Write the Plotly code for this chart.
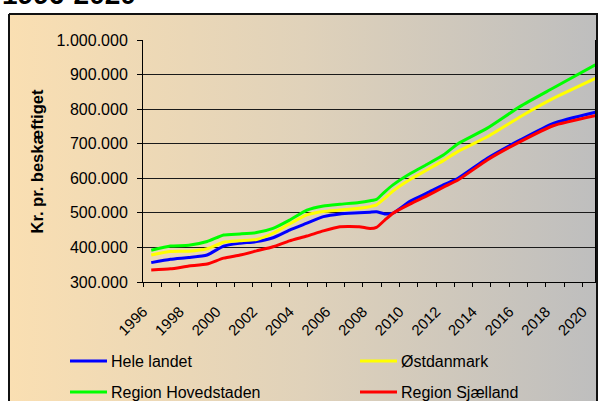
import plotly.graph_objects as go

# ---------------- data ----------------
years = [1996.45, 1997.5, 1998.5, 1999.5, 2000.4, 2001.3, 2002.2, 2003.1, 2004.0,
         2004.95, 2005.85, 2006.75, 2007.8, 2008.4, 2008.75, 2009.2, 2009.65,
         2010.6, 2011.5, 2012.4, 2013.2, 2014.8, 2016.6, 2018.4, 2020.7]

hele_landet = [356, 366, 371, 378, 404, 412, 417, 428, 450, 470, 489, 497, 500,
               502, 503, 497, 499, 534, 557, 581, 600, 658, 711, 759, 791]
oestdanmark = [378, 388, 389, 396, 415, 419, 423, 441, 468, 494, 504, 508, 513,
               518, 523, 542, 563, 597, 624, 651, 678, 720, 778, 831, 889]
hovedstaden = [392, 404, 406, 417, 436, 439, 443, 455, 479, 508, 520, 525, 530,
               535, 539, 561, 581, 614, 640, 667, 700, 745, 808, 861, 928]
sjaelland = [335, 338, 346, 352, 369, 378, 390, 402, 419, 433, 448, 460, 460,
             455, 458, 479, 499, 526, 549, 574, 595, 653, 706, 752, 781]

series_names = ["Hele landet", "Østdanmark", "Region Hovedstaden", "Region Sjælland"]
series_values = [hele_landet, oestdanmark, hovedstaden, sjaelland]
series_colors = ["#0000FF", "#FFFF00", "#00FF00", "#FF0000"]

x_tick_labels = ["1996", "1998", "2000", "2002", "2004", "2006", "2008",
                 "2010", "2012", "2014", "2016", "2018", "2020"]
y_tick_values = [300000, 400000, 500000, 600000, 700000, 800000, 900000, 1000000]

title_text = "1996-2020"
y_title = "Kr. pr. beskæftiget"

# ---------------- figure ----------------
W, H = 600, 401
FONT = "Arial, Liberation Sans, sans-serif"


def py(p):  # pixel from top -> paper y
    return 1 - p / H


def px(p):
    return p / W


fig = go.Figure()

# chart-area background with horizontal gradient (on a full-page helper subplot)
fig.add_trace(go.Scatter(
    x=[9, 597, 597, 9, 9], y=[14, 14, 410, 410, 14],
    xaxis="x", yaxis="y", mode="lines", fill="toself",
    fillgradient=dict(type="horizontal",
                      colorscale=[[0, "#FADFB2"], [0.5, "#E0D2BA"], [1, "#BEBEBE"]]),
    line=dict(color="#111111", width=2), hoverinfo="skip", showlegend=False))

for name, vals, col in zip(series_names, series_values, series_colors):
    fig.add_trace(go.Scatter(
        x=years, y=[v * 1000 for v in vals], name=name,
        xaxis="x2", yaxis="y2", mode="lines",
        line=dict(color=col, width=3, shape="spline", smoothing=0.5),
        showlegend=False))

x_lo, x_hi = 1996, 2020.68
dom_x = [px(143), px(595)]
dom_y = [py(282), py(40)]

fig.update_layout(
    width=W, height=H,
    margin=dict(l=0, r=0, t=0, b=0, pad=0, autoexpand=False),
    paper_bgcolor="white", plot_bgcolor="rgba(0,0,0,0)",
    separators=",.",
    showlegend=False,
    font=dict(family=FONT, color="black"),
    xaxis=dict(domain=[0, 1], range=[0, W], visible=False, fixedrange=True,
               automargin=False),
    yaxis=dict(domain=[0, 1], range=[H, 0], visible=False, fixedrange=True,
               automargin=False),
    xaxis2=dict(domain=dom_x, anchor="y2", range=[x_lo, x_hi], automargin=False,
                tickmode="array",
                tickvals=[int(t) for t in x_tick_labels], ticktext=x_tick_labels,
                ticks="outside", ticklen=4, tickcolor="black",
                minor=dict(tickmode="linear", tick0=1996, dtick=1, ticks="outside",
                           ticklen=4, tickcolor="black", showgrid=False),
                tickangle=-45, tickfont=dict(size=15, family=FONT),
                ticklabelstandoff=10,
                showgrid=False, zeroline=False,
                showline=True, linecolor="black", linewidth=1),
    xaxis3=dict(overlaying="x2", anchor="y2", range=[x_lo, x_hi], automargin=False,
                tickmode="linear", tick0=1996, dtick=1,
                ticks="inside", ticklen=4, tickcolor="black",
                showticklabels=False, showgrid=False, zeroline=False, showline=False),
    yaxis2=dict(domain=dom_y, anchor="x2", range=[300000, 1000000], automargin=False,
                tickmode="array", tickvals=y_tick_values, tickformat=",d",
                ticks="outside", ticklen=5, tickcolor="black",
                tickfont=dict(size=16, family=FONT),
                ticklabelstandoff=6,
                showgrid=True, gridcolor="#1a1a1a", gridwidth=1,
                zeroline=False, showline=True, linecolor="black", linewidth=1,
                mirror=True),
)

annotations = [
    dict(text="<b>%s</b>" % title_text, xref="paper", yref="paper",
         x=px(0), y=py(12), xanchor="left", yanchor="bottom",
         showarrow=False, font=dict(size=28, family=FONT, color="black")),
    dict(text="<b>%s</b>" % y_title, xref="paper", yref="paper",
         x=px(37), y=py(161.5), xanchor="center", yanchor="middle",
         textangle=-90, showarrow=False, font=dict(size=16.5, family=FONT, color="black")),
]

# manual legend: two columns, two rows
legend_pos = [(70, 361), (360, 361), (70, 392), (360, 392)]
shapes = []
for (lx, ly), name, col in zip(legend_pos, series_names, series_colors):
    shapes.append(dict(type="line", xref="paper", yref="paper",
                       x0=px(lx), x1=px(lx + 37), y0=py(ly), y1=py(ly),
                       line=dict(color=col, width=3)))
    annotations.append(dict(text=name, xref="paper", yref="paper",
                            x=px(lx + 39), y=py(ly), xanchor="left", yanchor="middle",
                            showarrow=False, font=dict(size=16, family=FONT, color="black")))

fig.update_layout(annotations=annotations, shapes=shapes)

fig.write_html("out.html", config={"displayModeBar": False},
               post_script="document.body.style.margin='0';")
